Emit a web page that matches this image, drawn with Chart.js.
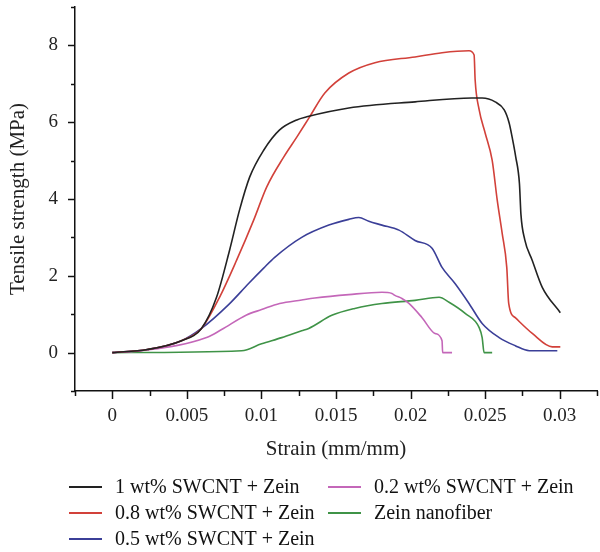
<!DOCTYPE html>
<html>
<head>
<meta charset="utf-8">
<script src="https://cdn.jsdelivr.net/npm/chart.js@4.4.1/dist/chart.umd.min.js"></script>
<style>
  body { margin: 0; background: #fff; }
</style>
</head>
<body>
<canvas id="tensile" width="600" height="552"></canvas>
<script>
// series labels + colours
var seriesNames = ["1 wt% SWCNT + Zein", "0.8 wt% SWCNT + Zein", "0.5 wt% SWCNT + Zein", "0.2 wt% SWCNT + Zein", "Zein nanofiber"];
var seriesColors = ["#222222", "#d2413a", "#3b3f98", "#c467b9", "#3f9347"];

// [strain, stress]
var swcnt10 = [[0,0],[0.00235,0.08],[0.00464,0.31],[0.00598,0.63],[0.00699,1.44],[0.00786,2.66],[0.00853,3.71],[0.00921,4.57],[0.01015,5.27],[0.01122,5.8],[0.01237,6.06],[0.01304,6.14],[0.01586,6.37],[0.0203,6.53],[0.0241,6.63],[0.0248,6.63],[0.02567,6.53],[0.02628,6.32],[0.02661,5.98],[0.02681,5.61],[0.02705,5.1],[0.0273,4.4],[0.0274,3.6],[0.02765,2.95],[0.02816,2.4],[0.02883,1.7],[0.03004,1.04]];
var swcnt08 = [[0,0],[0.00235,0.08],[0.00464,0.31],[0.00598,0.63],[0.00719,1.44],[0.00833,2.4],[0.00948,3.45],[0.01035,4.31],[0.01149,5.09],[0.01237,5.61],[0.01317,6.1],[0.01425,6.76],[0.01586,7.28],[0.01761,7.55],[0.0203,7.7],[0.02211,7.81],[0.02392,7.86],[0.02426,7.75],[0.02433,7.1],[0.0246,6.32],[0.025,5.72],[0.02547,5.01],[0.02581,3.97],[0.02614,3.11],[0.02645,2.22],[0.02658,1.28],[0.02702,0.91],[0.02816,0.5],[0.0295,0.15],[0.03004,0.15]];
var swcnt05 = [[0,0],[0.00235,0.08],[0.00464,0.31],[0.00598,0.63],[0.0078,1.25],[0.00914,1.8],[0.01015,2.2],[0.01089,2.48],[0.0127,3.0],[0.01452,3.32],[0.01586,3.47],[0.01653,3.52],[0.0172,3.42],[0.01808,3.32],[0.01922,3.19],[0.0203,2.92],[0.02144,2.72],[0.02211,2.22],[0.02298,1.8],[0.02392,1.28],[0.0248,0.76],[0.02594,0.39],[0.02702,0.18],[0.02796,0.05],[0.02984,0.05]];
var swcnt02 = [[0,0],[0.00195,0.05],[0.00632,0.39],[0.00733,0.6],[0.009,0.98],[0.01001,1.12],[0.01122,1.28],[0.0127,1.37],[0.01358,1.42],[0.01586,1.51],[0.01808,1.57],[0.01875,1.54],[0.01895,1.49],[0.01942,1.41],[0.01989,1.28],[0.02077,0.91],[0.02164,0.5],[0.02211,0.31],[0.02215,0],[0.02278,0]];
var zeinOnly = [[0,0],[0.00867,0.05],[0.01001,0.23],[0.01136,0.39],[0.0127,0.57],[0.01317,0.63],[0.01472,0.97],[0.01626,1.15],[0.01808,1.28],[0.0203,1.36],[0.02191,1.44],[0.02258,1.31],[0.02366,1.02],[0.0246,0.65],[0.0248,0.39],[0.02493,0],[0.02547,0]];

// axis ticks
var xTickLabels = ["0", "0.005", "0.01", "0.015", "0.02", "0.025", "0.03"];
var yTickLabels = ["0", "2", "4", "6", "8"];

var serif = "'Liberation Serif', 'Times New Roman', serif";
var allSeries = [swcnt10, swcnt08, swcnt05, swcnt02, zeinOnly];

var ds = allSeries.map(function(s, i) {
  return {
    label: seriesNames[i],
    data: s,
    borderColor: seriesColors[i],
    borderWidth: 1.6,
    pointRadius: 0,
    fill: false,
    cubicInterpolationMode: 'monotone'
  };
});

function isMajor(v, step) {
  return Math.round(v / step) % 2 === 0;
}

// draws the outward tick marks (long major, short minor)
var tickMarks = {
  id: 'tickMarks',
  afterDraw: function(chart) {
    var ctx = chart.ctx, area = chart.chartArea;
    var xs = chart.scales.x, ys = chart.scales.y;
    ctx.save();
    ctx.strokeStyle = '#111';
    ctx.lineWidth = 1.5;
    xs.ticks.forEach(function(t) {
      var px = Math.round(xs.getPixelForValue(t.value)) + 0.5;
      var len = isMajor(t.value, 0.0025) ? 8 : 5;
      ctx.beginPath();
      ctx.moveTo(px, area.bottom);
      ctx.lineTo(px, area.bottom + len);
      ctx.stroke();
    });
    ys.ticks.forEach(function(t) {
      var py = Math.round(ys.getPixelForValue(t.value)) + 0.5;
      var len = isMajor(t.value, 1) ? 7 : 4;
      ctx.beginPath();
      ctx.moveTo(area.left, py);
      ctx.lineTo(area.left - len, py);
      ctx.stroke();
    });
    ctx.restore();
  }
};

// two-column legend under the axis title
var colLegend = {
  id: 'colLegend',
  afterDraw: function(chart) {
    var ctx = chart.ctx;
    var cols = [[0, 1, 2], [3, 4]];
    var colX = [69, 328];
    var rowY = [487, 513, 539];
    ctx.save();
    ctx.font = '20px ' + serif;
    ctx.textBaseline = 'middle';
    ctx.fillStyle = '#111';
    cols.forEach(function(list, c) {
      list.forEach(function(idx, r) {
        var d = chart.data.datasets[idx];
        ctx.strokeStyle = d.borderColor;
        ctx.lineWidth = 2;
        ctx.beginPath();
        ctx.moveTo(colX[c], rowY[r]);
        ctx.lineTo(colX[c] + 33, rowY[r]);
        ctx.stroke();
        ctx.fillText(d.label, colX[c] + 46, rowY[r] + 1);
      });
    });
    ctx.restore();
  }
};

new Chart(document.getElementById('tensile').getContext('2d'), {
  type: 'line',
  data: { datasets: ds },
  options: {
    responsive: false,
    devicePixelRatio: 1,
    animation: false,
    layout: { padding: { top: 7, right: 3, left: 0, bottom: 90 } },
    plugins: {
      legend: { display: false },
      tooltip: { enabled: false }
    },
    scales: {
      x: {
        type: 'linear',
        min: -0.0025,
        max: 0.0325,
        border: { display: true, color: '#111', width: 1.5 },
        grid: { display: true, drawOnChartArea: false, drawTicks: true, tickLength: 8, tickColor: 'rgba(0,0,0,0)' },
        ticks: {
          stepSize: 0.0025,
          autoSkip: false,
          maxRotation: 0,
          padding: 6,
          color: '#222',
          font: { family: serif, size: 19 },
          callback: function(v) {
            var k = Math.round(v / 0.005);
            if (Math.abs(v - k * 0.005) > 1e-7 || k < 0 || k >= xTickLabels.length) return '';
            return xTickLabels[k];
          }
        },
        title: { display: true, text: 'Strain (mm/mm)', color: '#222', font: { family: serif, size: 21 }, padding: { top: 4, bottom: 0 } },
        afterFit: function(s) { s.height = 71; s.paddingLeft = 0; s.paddingRight = 0; }
      },
      y: {
        min: -1,
        max: 9,
        border: { display: true, color: '#111', width: 1.5 },
        grid: { display: true, drawOnChartArea: false, drawTicks: true, tickLength: 7, tickColor: 'rgba(0,0,0,0)' },
        ticks: {
          stepSize: 1,
          autoSkip: false,
          padding: 10,
          color: '#222',
          font: { family: serif, size: 19 },
          callback: function(v) {
            if (v % 2 !== 0 || v < 0) return '';
            return yTickLabels[v / 2];
          }
        },
        title: { display: true, text: 'Tensile strength (MPa)', color: '#222', font: { family: serif, size: 21 }, padding: { top: 6, bottom: 0 } },
        afterFit: function(s) { s.width = 75; s.paddingTop = 0; s.paddingBottom = 0; }
      }
    }
  },
  plugins: [tickMarks, colLegend]
});
</script>
</body>
</html>
